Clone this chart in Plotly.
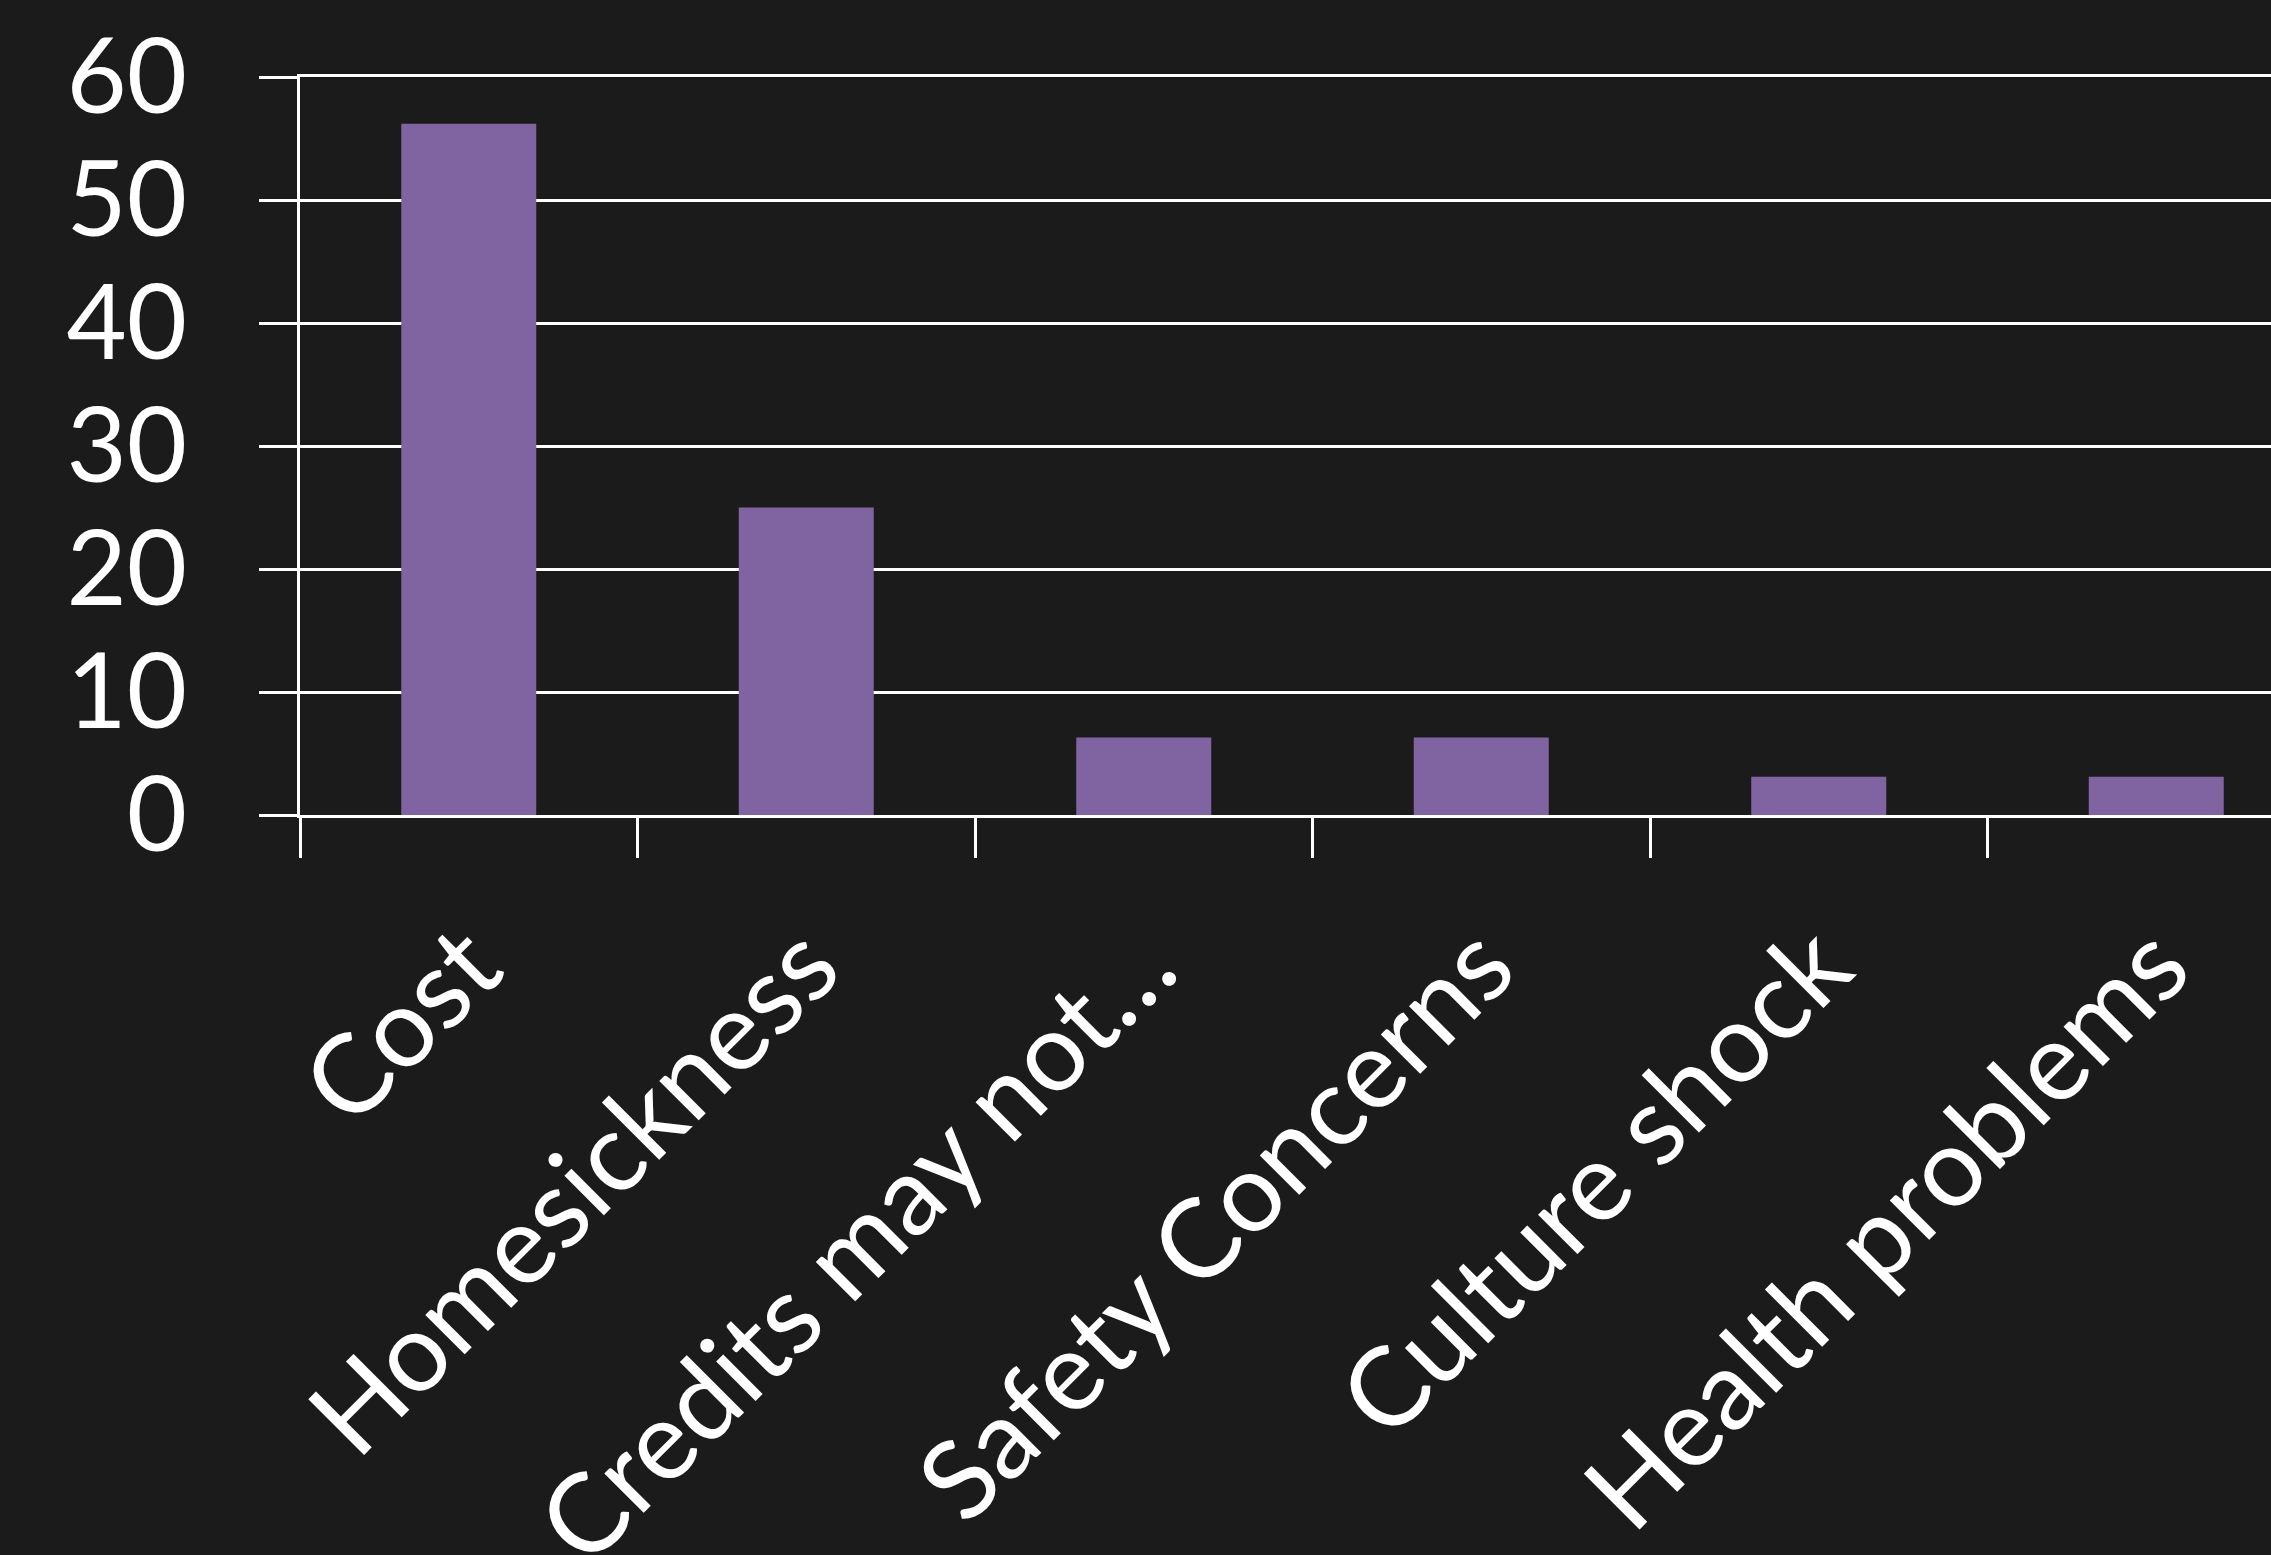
import plotly.graph_objects as go

categories = ["Cost", "Homesickness", "Credits may not\u2026", "Safety Concerns", "Culture shock", "Health problems"]
values = [56.2, 25.0, 6.3, 6.3, 3.1, 3.1]
y_ticks = [0, 10, 20, 30, 40, 50, 60]

W, H = 2271, 1555
left, top, bottom = 300, 77, 740
cat_w = 337.5

fig = go.Figure(go.Bar(
    x=categories, y=values,
    marker=dict(color="#8064a2", line=dict(width=0)),
    width=0.4,
))

font = "Lato, Open Sans, sans-serif"
fig.update_layout(
    width=W, height=H,
    margin=dict(l=left, r=0, t=top, b=bottom, pad=0),
    paper_bgcolor="#1b1b1b", plot_bgcolor="#1b1b1b",
    showlegend=False,
    font=dict(family=font, color="white", size=100),
)
fig.update_xaxes(
    type="category", automargin=False,
    range=[-0.5, -0.5 + (W - left) / cat_w],
    showgrid=False,
    showline=True, linecolor="white", linewidth=3, mirror=True,
    ticks="outside", tickson="boundaries", ticklen=40, tickwidth=3, tickcolor="white",
    tickangle=-45,
    tickfont=dict(size=110, color="white", family=font),
    ticklabelstandoff=40,
)
fig.update_yaxes(
    range=[0, 60], tickvals=y_ticks, automargin=False,
    showgrid=True, gridcolor="white", gridwidth=3,
    showline=True, linecolor="white", linewidth=3,
    zeroline=False,
    ticks="outside", ticklen=38, tickwidth=3, tickcolor="white",
    tickfont=dict(size=104, color="white", family=font),
    ticklabelstandoff=51,
)
fig.write_html("out.html", config={"displayModeBar": False},
               post_script="document.body.style.margin='0';document.body.style.background='#1b1b1b';")
